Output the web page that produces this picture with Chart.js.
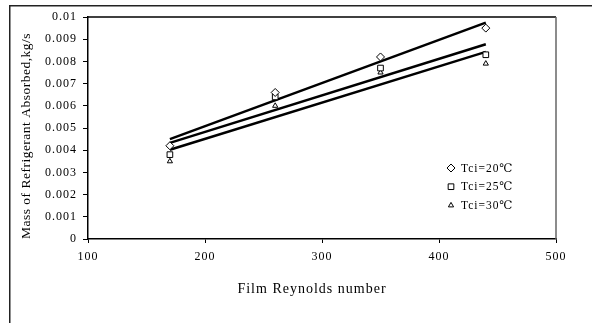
<!DOCTYPE html>
<html>
<head>
<meta charset="utf-8">
<script src="https://cdn.jsdelivr.net/npm/chart.js@4.4.1/dist/chart.umd.min.js"></script>
<style>
  html, body { margin: 0; padding: 0; background: #fff; }
  #wrap { width: 592px; height: 323px; position: relative; }
</style>
</head>
<body>
<div id="wrap"><canvas id="c" width="592" height="323"></canvas></div>
<script>
// Film Reynolds number at which absorption was measured
const reynolds = [170, 260, 350, 440];
// Mass of refrigerant absorbed (kg/s) for each coolant inlet temperature
const absorbed20 = [0.0042, 0.0066, 0.0082, 0.0095];
const absorbed25 = [0.0038, 0.0064, 0.0077, 0.0083];
const absorbed30 = [0.0035, 0.0060, 0.0075, 0.0079];
const seriesLabels = ['Tci=20\u2103', 'Tci=25\u2103', 'Tci=30\u2103'];
const seriesMarkers = ['rectRot', 'rect', 'triangle'];
const xTicks = [100, 200, 300, 400, 500];
const yTicks = [0, 0.001, 0.002, 0.003, 0.004, 0.005, 0.006, 0.007, 0.008, 0.009, 0.01];
const xTitle = 'Film Reynolds number';
const yTitle = 'Mass of Refrigerant Absorbed,kg/s';

const serif = '"Liberation Serif", "DejaVu Serif", serif';

// least-squares straight line through a series, spanning its x range
function trend(xs, ys) {
  const n = xs.length;
  const mx = xs.reduce((a, b) => a + b, 0) / n;
  const my = ys.reduce((a, b) => a + b, 0) / n;
  let sxy = 0, sxx = 0;
  for (let i = 0; i < n; i++) { sxy += (xs[i] - mx) * (ys[i] - my); sxx += (xs[i] - mx) ** 2; }
  const k = sxy / sxx;
  const x0 = Math.min(...xs), x1 = Math.max(...xs);
  return [{ x: x0, y: my + k * (x0 - mx) }, { x: x1, y: my + k * (x1 - mx) }];
}
const pts = ys => reynolds.map((x, i) => ({ x, y: ys[i] }));
const allSeries = [absorbed20, absorbed25, absorbed30];

const datasets = [];
allSeries.forEach((ys, i) => {
  datasets.push({
    label: seriesLabels[i],
    data: pts(ys),
    showLine: false,
    pointStyle: seriesMarkers[i],
    pointRadius: i === 2 ? 3 : 4,
    pointBorderColor: '#000',
    pointBackgroundColor: '#fff',
    pointBorderWidth: 1,
    order: 0
  });
});
allSeries.forEach((ys, i) => {
  datasets.push({
    label: 'trend ' + seriesLabels[i],
    data: trend(reynolds, ys),
    showLine: true,
    borderColor: '#000',
    borderWidth: 2.5,
    pointRadius: 0,
    order: 1
  });
});

// frame around the figure, plot box edges, axis captions and the inset legend
const decor = {
  id: 'decor',
  beforeDraw(chart) {
    const ctx = chart.ctx;
    ctx.letterSpacing = '1px';
    ctx.save();
    ctx.fillStyle = '#fff';
    ctx.fillRect(0, 0, chart.width, chart.height);
    ctx.strokeStyle = '#222';
    ctx.lineWidth = 1.5;
    ctx.beginPath();
    ctx.moveTo(592, 5.75); ctx.lineTo(9.75, 5.75); ctx.lineTo(9.75, 323);
    ctx.stroke();
    ctx.restore();
  },
  afterDraw(chart) {
    const ctx = chart.ctx;
    const a = chart.chartArea;
    ctx.save();
    ctx.lineWidth = 1.5;
    ctx.strokeStyle = '#000';
    ctx.beginPath(); ctx.moveTo(a.left, a.top); ctx.lineTo(a.right, a.top); ctx.stroke();
    ctx.strokeStyle = '#666';
    ctx.beginPath(); ctx.moveTo(a.right, a.top); ctx.lineTo(a.right, a.bottom); ctx.stroke();

    // axis captions
    ctx.fillStyle = '#000';
    ctx.textAlign = 'center';
    ctx.textBaseline = 'middle';
    ctx.letterSpacing = '1px';
    ctx.font = '14px ' + serif;
    ctx.fillText(xTitle, (a.left + a.right) / 2 - 10, a.bottom + 50);
    ctx.save();
    ctx.translate(26, (a.top + a.bottom) / 2 + 8);
    ctx.rotate(-Math.PI / 2);
    ctx.letterSpacing = '0.5px';
    ctx.font = '13.5px ' + serif;
    ctx.fillText(yTitle, 0, 0);
    ctx.restore();

    // legend
    const lx = a.left + 363, ly = a.top + 151, step = 18.7;
    ctx.textAlign = 'left';
    ctx.letterSpacing = '1px';
    ctx.font = '11.5px ' + serif;
    seriesLabels.forEach((lab, i) => {
      const y = ly + i * step;
      ctx.strokeStyle = '#000';
      ctx.lineWidth = 1;
      ctx.fillStyle = '#fff';
      Chart.helpers.drawPoint(ctx, { pointStyle: seriesMarkers[i], radius: i === 2 ? 3 : 4, rotation: 0, borderWidth: 1 }, lx, y);
      ctx.fillStyle = '#000';
      ctx.fillText(lab, lx + 10, y + 0.5);
    });
    ctx.restore();
  }
};

new Chart(document.getElementById('c'), {
  type: 'scatter',
  data: { datasets },
  options: {
    responsive: false,
    animation: false,
    layout: { padding: { left: 0, top: 17, right: 36, bottom: 0 } },
    plugins: { legend: { display: false }, tooltip: { enabled: false } },
    scales: {
      x: {
        type: 'linear', min: xTicks[0], max: xTicks[xTicks.length - 1],
        afterBuildTicks: s => { s.ticks = xTicks.map(v => ({ value: v })); },
        afterFit: s => { s.height = 84; },
        grid: { drawOnChartArea: false, tickLength: 4, color: '#000', tickWidth: 1 },
        border: { color: '#000', width: 1.5 },
        ticks: { color: '#000', font: { family: serif, size: 12 }, padding: 7, maxRotation: 0 }
      },
      y: {
        type: 'linear', min: yTicks[0], max: yTicks[yTicks.length - 1],
        afterBuildTicks: s => { s.ticks = yTicks.map(v => ({ value: v })); },
        afterFit: s => { s.width = 88; },
        grid: { drawOnChartArea: false, tickLength: 5, color: '#000', tickWidth: 1 },
        border: { color: '#000', width: 1.5 },
        ticks: { color: '#000', font: { family: serif, size: 12 }, padding: 6,
          callback: v => String(Number(v.toFixed(3))) }
      }
    }
  },
  plugins: [decor]
});
</script>
</body>
</html>
